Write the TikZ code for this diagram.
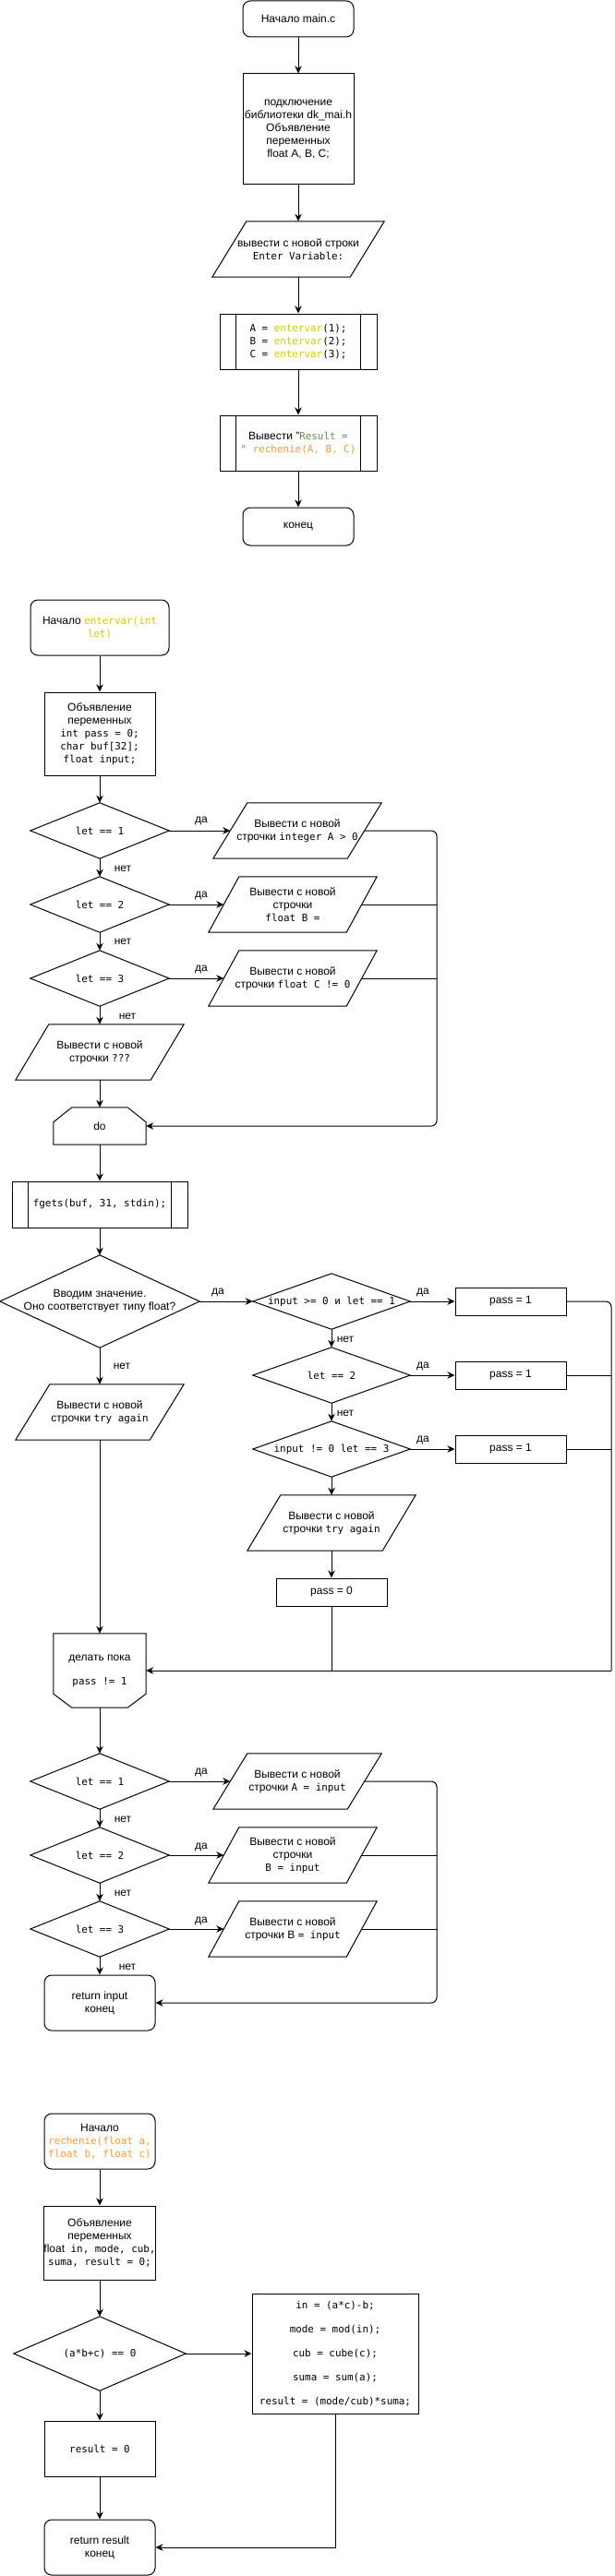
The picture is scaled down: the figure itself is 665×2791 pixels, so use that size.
\documentclass[tikz,border=0pt]{standalone}
\usepackage{fontspec}
\setmainfont{Liberation Sans}
\newfontfamily\codefont{DejaVu Sans Mono}
\usetikzlibrary{arrows.meta}
\definecolor{yel}{RGB}{205,205,0}
\definecolor{grn}{RGB}{106,135,89}
\definecolor{org}{RGB}{255,153,51}
\newcommand\cd[1]{{\codefont\fontsize{10.9}{14}\selectfont #1}}
\newcommand\drawdia[1]{\draw[shp] (#1.north) -- (#1.east) -- (#1.south) -- (#1.west) -- cycle;}
\newcommand\drawpar[2]{\draw[shp] ([xshift=#2]#1.north west) -- (#1.north east) -- ([xshift=-#2]#1.south east) -- (#1.south west) -- cycle;}
\newcommand\drawsub[2]{\draw[shp] ([xshift=#2]#1.north west) -- ([xshift=#2]#1.south west) ([xshift=-#2]#1.north east) -- ([xshift=-#2]#1.south east);}
\newcommand\drawlooptop[3]{\draw[shp] ([xshift=#2]#1.north west) -- ([xshift=-#2]#1.north east) -- ([yshift=-#3]#1.north east) -- (#1.south east) -- (#1.south west) -- ([yshift=-#3]#1.north west) -- cycle;}
\newcommand\drawloopbot[3]{\draw[shp] (#1.north west) -- (#1.north east) -- ([yshift=#3]#1.south east) -- ([xshift=-#2]#1.south east) -- ([xshift=#2]#1.south west) -- ([yshift=#3]#1.south west) -- cycle;}
\tikzset{
  every node/.style={inner sep=0pt, align=center, font=\fontsize{12}{14}\selectfont},
  ln/.style={line width=1pt},
  arr/.style={line width=1pt, -{Stealth[length=8pt,width=7.5pt,inset=2.5pt]}},
  shp/.style={line width=1pt, line join=miter},
  blk/.style={draw, line width=1pt, rectangle},
  rnd/.style={draw, line width=1pt, rectangle, rounded corners=8pt},
  inv/.style={rectangle, draw=none},
  sz/.style n args={2}{minimum width=#1, minimum height=#2},
}
\begin{document}
\begin{tikzpicture}[x=1pt,y=-1pt]
\useasboundingbox (0,0) rectangle (665,2791);

% ---------------- main.c ----------------
\node[rnd, sz={120}{39}] (m_start) at (323,20.5) {Начало main.c};
\node[blk, sz={120}{120}] (m_decl) at (323,140) {подключение\\библиотеки dk\_mai.h\\Объявление\\переменных\\float A, B, C;};
\node[inv, sz={186}{60}] (m_out) at (323,270) {вывести с новой строки\\\cd{Enter Variable:}};
\drawpar{m_out}{37}
\node[blk, sz={170}{60}] (m_sub1) at (323,370) {\cd{A = \textcolor{yel}{entervar}(1);}\\\cd{B = \textcolor{yel}{entervar}(2);}\\\cd{C = \textcolor{yel}{entervar}(3);}};
\drawsub{m_sub1}{18}
\node[blk, sz={170}{60}] (m_sub2) at (323,480) {Вывести "\cd{\textcolor{grn}{Result =}}\\\cd{\textcolor{grn}{"} \textcolor{org}{rechenie(A, B, C)}}};
\drawsub{m_sub2}{18}
\node[rnd, sz={120}{41}] (m_end) at (323,570.5) {конец};

\draw[arr] (m_start) -- (m_decl);
\draw[arr] (m_decl) -- (m_out);
\draw[arr] (m_out) -- (m_sub1);
\draw[arr] (m_sub1) -- (m_sub2);
\draw[arr] (m_sub2) -- (m_end);

% ---------------- entervar ----------------
\node[rnd, sz={150}{60}] (e_start) at (108,680) {Начало \cd{\textcolor{yel}{entervar(int}}\\\cd{\textcolor{yel}{let)}}};
\node[blk, sz={120}{90}] (e_decl) at (108,795) {Объявление\\переменных\\\cd{int pass = 0;}\\\cd{char buf[32];}\\\cd{float input;}};
\node[inv, sz={150}{60}] (e_d1) at (108,900) {\cd{let == 1}};
\drawdia{e_d1}
\node[inv, sz={182}{60}] (e_p1) at (322,900) {Вывести с новой\\строчки \cd{integer A > 0}};
\drawpar{e_p1}{37}
\node[inv, sz={150}{60}] (e_d2) at (108,980) {\cd{let == 2}};
\drawdia{e_d2}
\node[inv, sz={182}{60}] (e_p2) at (317,980) {Вывести с новой\\строчки\\\cd{float B =}};
\drawpar{e_p2}{33}
\node[inv, sz={150}{60}] (e_d3) at (108,1060) {\cd{let == 3}};
\drawdia{e_d3}
\node[inv, sz={182}{60}] (e_p3) at (317,1060) {Вывести с новой\\строчки \cd{float C != 0}};
\drawpar{e_p3}{33}
\node[inv, sz={182}{60}] (e_p4) at (108,1140) {Вывести с новой\\строчки \cd{???}};
\drawpar{e_p4}{36}
\node[inv, sz={100}{40}] (e_do) at (108,1220) {do};
\drawlooptop{e_do}{20}{16}
\node[blk, sz={190}{50}] (e_fg) at (108,1305) {\cd{fgets(buf, 31, stdin);}};
\drawsub{e_fg}{18}
\node[inv, sz={216}{100}] (e_bd) at (108,1410) {Вводим значение.\\Оно соответствует типу float?};
\drawdia{e_bd}
\node[inv, sz={170}{60}] (e_c1) at (359,1410) {\cd{input >= 0 и let == 1}};
\drawdia{e_c1}
\node[blk, sz={120}{30}] (e_r1) at (553,1410) {pass = 1};
\node[inv, sz={170}{60}] (e_c2) at (359,1490) {\cd{let == 2}};
\drawdia{e_c2}
\node[blk, sz={120}{30}] (e_r2) at (553,1490) {pass = 1};
\node[inv, sz={170}{60}] (e_c3) at (359,1570) {\cd{input != 0 let == 3}};
\drawdia{e_c3}
\node[blk, sz={120}{30}] (e_r3) at (553,1570) {pass = 1};
\node[inv, sz={182}{60}] (e_p5) at (359,1650) {Вывести с новой\\строчки \cd{try again}};
\drawpar{e_p5}{36}
\node[blk, sz={120}{30}] (e_r0) at (359,1725) {pass = 0};
\node[inv, sz={182}{60}] (e_p6) at (108,1530) {Вывести с новой\\строчки \cd{try again}};
\drawpar{e_p6}{37}
\node[inv, sz={100}{80}] (e_while) at (108,1810) {делать пока\\[12pt]\cd{pass != 1}};
\drawloopbot{e_while}{20}{15}
\node[inv, sz={150}{60}] (e_e1) at (108,1930) {\cd{let == 1}};
\drawdia{e_e1}
\node[inv, sz={182}{60}] (e_q1) at (322,1930) {Вывести с новой\\строчки \cd{A = input}};
\drawpar{e_q1}{37}
\node[inv, sz={150}{60}] (e_e2) at (108,2010) {\cd{let == 2}};
\drawdia{e_e2}
\node[inv, sz={182}{60}] (e_q2) at (317,2010) {Вывести с новой\\строчки\\\cd{B = input}};
\drawpar{e_q2}{33}
\node[inv, sz={150}{60}] (e_e3) at (108,2090) {\cd{let == 3}};
\drawdia{e_e3}
\node[inv, sz={182}{60}] (e_q3) at (317,2090) {Вывести с новой\\строчки B \cd{= input}};
\drawpar{e_q3}{33}
\node[rnd, sz={120}{60}] (e_ret) at (108,2170) {return input\\конец};

% labels
\node (l1) at (218,889) {да};
\node (l2) at (218,970) {да};
\node (l3) at (218,1050) {да};
\node (l4) at (236,1400) {да};
\node (l5) at (458,1400) {да};
\node (l6) at (458,1480) {да};
\node (l7) at (458,1560) {да};
\node (l8) at (218,1920) {да};
\node (l9) at (218,2001) {да};
\node (l10) at (218,2081) {да};
\node (n1) at (133,941) {нет};
\node (n2) at (133,1020) {нет};
\node (n3) at (138,1101) {нет};
\node (n4) at (132,1480) {нет};
\node (n5) at (374,1451) {нет};
\node (n6) at (374,1531) {нет};
\node (n7) at (133,1971) {нет};
\node (n8) at (133,2051) {нет};
\node (n9) at (138,2131) {нет};

\coordinate (bus1t) at (473,900);
\coordinate (bus1b) at (473,1220);
\coordinate (bus2t) at (662,1410);
\coordinate (bus2b) at (662,1810);
\coordinate (bus3t) at (473,1930);
\coordinate (bus3b) at (473,2170);

\draw[arr] (e_start) -- (e_decl);
\draw[arr] (e_decl) -- (e_d1);
\draw[arr] (e_d1.east) -- ([xshift=18.5]e_p1.west);
\draw[arr] (e_d2.east) -- ([xshift=16.5]e_p2.west);
\draw[arr] (e_d3.east) -- ([xshift=16.5]e_p3.west);
\draw[arr] (e_d1) -- (e_d2);
\draw[arr] (e_d2) -- (e_d3);
\draw[arr] (e_d3) -- (e_p4);
\draw[arr] (e_p4) -- (e_do);
\draw[arr, rounded corners=6pt] ([xshift=-18.5]e_p1.east) -- (bus1t) -- (bus1b) -- (e_do.east);
\draw[ln] ([xshift=-16.5]e_p2.east) -- (e_p2.east -| bus1t);
\draw[ln] ([xshift=-16.5]e_p3.east) -- (e_p3.east -| bus1t);
\draw[arr] (e_do) -- (e_fg);
\draw[arr] (e_fg) -- (e_bd);
\draw[arr] (e_bd.east) -- (e_c1.west);
\draw[arr] (e_bd) -- (e_p6);
\draw[arr] (e_c1.east) -- (e_r1.west);
\draw[arr] (e_c2.east) -- (e_r2.west);
\draw[arr] (e_c3.east) -- (e_r3.west);
\draw[arr] (e_c1) -- (e_c2);
\draw[arr] (e_c2) -- (e_c3);
\draw[arr] (e_c3) -- (e_p5);
\draw[arr] (e_p5) -- (e_r0);
\draw[ln] (e_r0.south) -- (e_r0.south |- bus2b);
\draw[ln, rounded corners=6pt] (e_r1.east) -- (bus2t) -- (bus2b);
\draw[arr] (bus2b) -- (e_while.east);
\draw[ln] (e_r2.east) -- (e_r2.east -| bus2t);
\draw[ln] (e_r3.east) -- (e_r3.east -| bus2t);
\draw[arr] (e_p6) -- (e_while);
\draw[arr] (e_while) -- (e_e1);
\draw[arr] (e_e1.east) -- ([xshift=18.5]e_q1.west);
\draw[arr] (e_e2.east) -- ([xshift=16.5]e_q2.west);
\draw[arr] (e_e3.east) -- ([xshift=16.5]e_q3.west);
\draw[arr] (e_e1) -- (e_e2);
\draw[arr] (e_e2) -- (e_e3);
\draw[arr] (e_e3) -- (e_ret);
\draw[arr, rounded corners=6pt] ([xshift=-18.5]e_q1.east) -- (bus3t) -- (bus3b) -- (e_ret.east);
\draw[ln] ([xshift=-16.5]e_q2.east) -- (e_q2.east -| bus3t);
\draw[ln] ([xshift=-16.5]e_q3.east) -- (e_q3.east -| bus3t);

% ---------------- rechenie ----------------
\node[rnd, sz={120}{60}] (r_start) at (108,2320) {Начало\\\cd{\textcolor{org}{rechenie(float a,}}\\\cd{\textcolor{org}{float b, float c)}}};
\node[blk, sz={120}{80}] (r_decl) at (108,2430) {Объявление\\переменных\\float\cd{ in, mode, cub,}\\\cd{suma, result = 0;}};
\node[inv, sz={186}{80}] (r_d) at (108,2550) {\cd{(a*b+c) == 0}};
\drawdia{r_d}
\node[blk, sz={180}{130}] (r_box) at (363,2550) {\cd{in = (a*c)-b;}\\[12pt]\cd{mode = mod(in);}\\[12pt]\cd{cub = cube(c);}\\[12pt]\cd{suma = sum(a);}\\[12pt]\cd{result = (mode/cub)*suma;}};
\node[blk, sz={120}{60}] (r_r0) at (108,2653) {\cd{result = 0}};
\node[rnd, sz={120}{60}] (r_ret) at (108,2760) {return result\\конец};
\coordinate (bus4) at (363,2760);

\draw[arr] (r_start) -- (r_decl);
\draw[arr] (r_decl) -- (r_d);
\draw[arr] (r_d.east) -- (r_box.west);
\draw[arr] (r_d) -- (r_r0);
\draw[arr] (r_r0) -- (r_ret);
\draw[arr] (r_box.south) -- (bus4) -- (r_ret.east);
\end{tikzpicture}
\end{document}
